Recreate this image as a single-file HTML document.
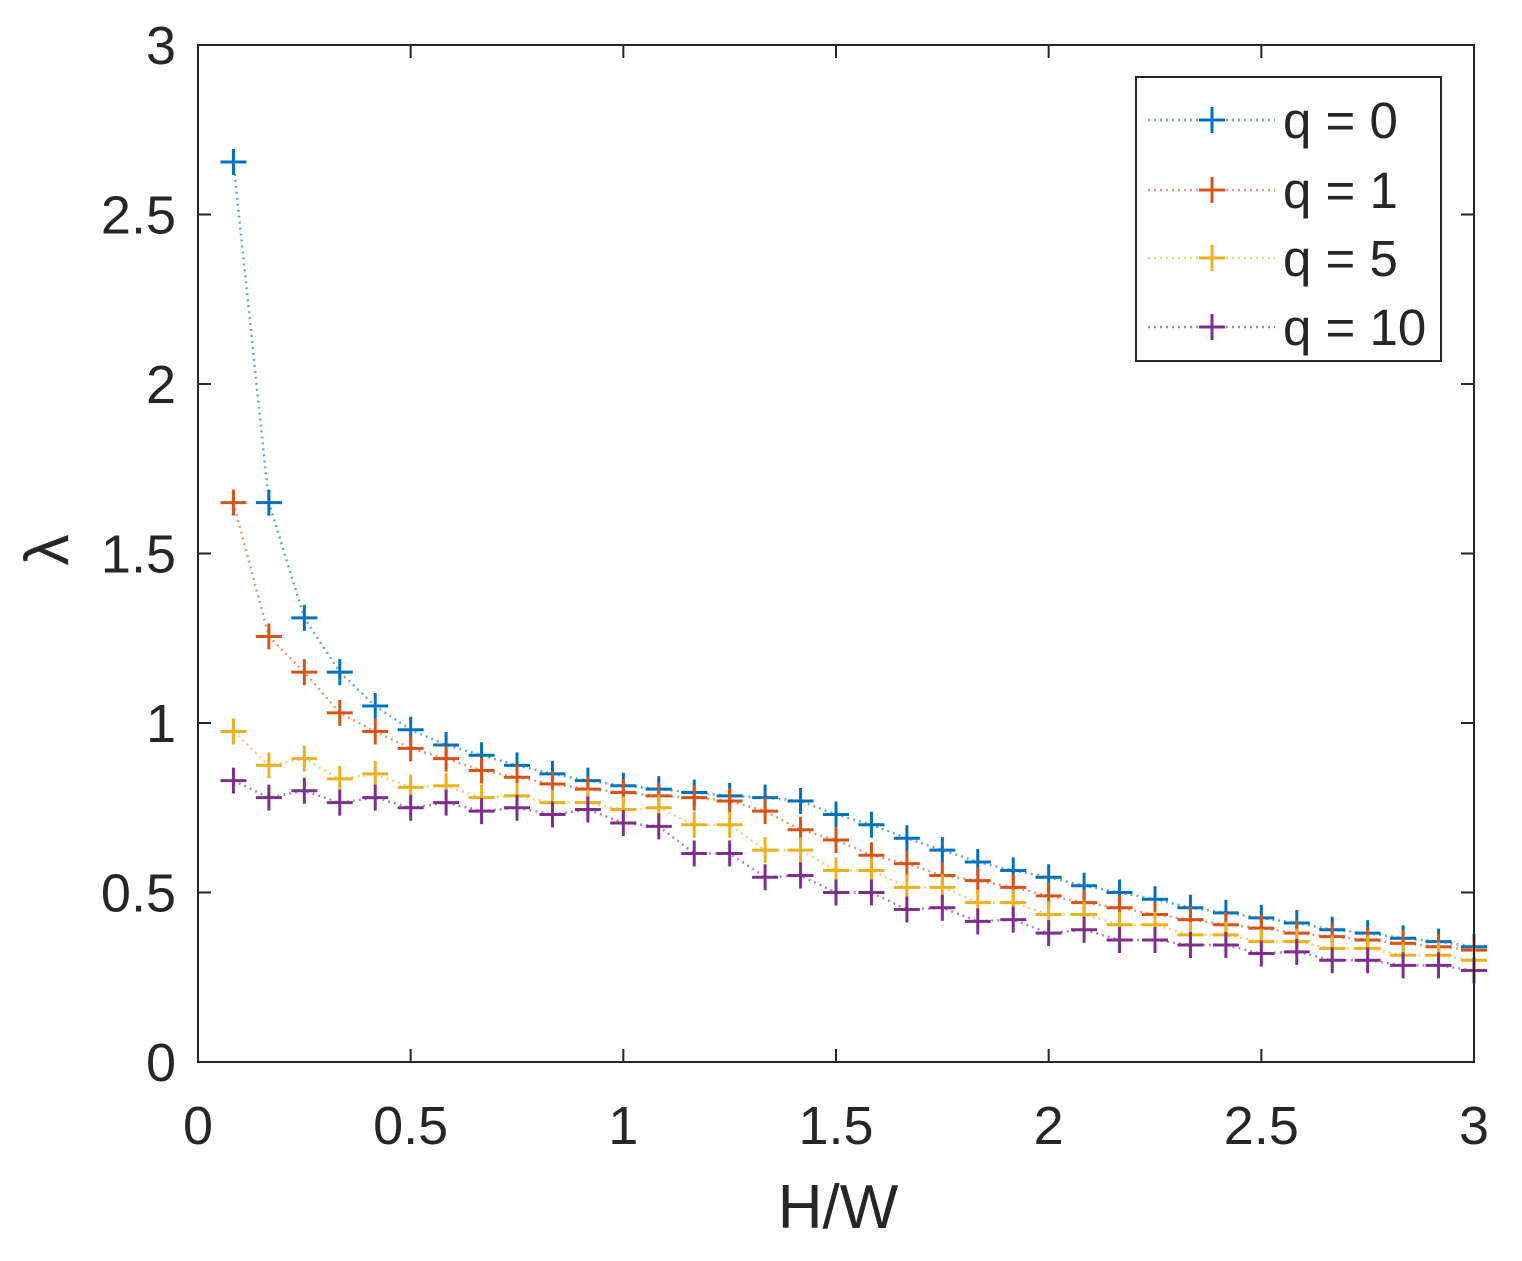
<!DOCTYPE html>
<html><head><meta charset="utf-8"><style>
html,body{margin:0;padding:0;background:#fff;}
svg text{font-family:"Liberation Sans",sans-serif;fill:#262626;}
</style></head><body>
<svg id="chart" width="1522" height="1256" xmlns="http://www.w3.org/2000/svg">
<rect width="1522" height="1256" fill="#fff"/>
<g id="plot"></g>
</svg>
<script>
const xs = [];
for (let k = 1; k <= 36; k++) xs.push(k / 12);
const q0 = [2.655,1.65,1.31,1.15,1.05,0.98,0.935,0.905,0.875,0.85,0.83,0.815,0.805,0.795,0.785,0.78,0.77,0.73,0.70,0.66,0.625,0.59,0.565,0.545,0.52,0.50,0.48,0.455,0.44,0.425,0.41,0.39,0.38,0.365,0.355,0.34];
const q1 = [1.65,1.255,1.15,1.03,0.975,0.925,0.895,0.86,0.84,0.82,0.805,0.795,0.785,0.78,0.77,0.74,0.685,0.655,0.61,0.585,0.55,0.535,0.515,0.49,0.47,0.455,0.435,0.42,0.405,0.395,0.38,0.37,0.36,0.35,0.34,0.33];
const q5 = [0.975,0.875,0.895,0.835,0.85,0.81,0.815,0.78,0.785,0.765,0.765,0.745,0.75,0.70,0.70,0.625,0.625,0.565,0.565,0.515,0.515,0.47,0.47,0.435,0.435,0.405,0.405,0.375,0.375,0.355,0.355,0.335,0.335,0.315,0.315,0.30];
const q10 = [0.83,0.78,0.80,0.765,0.78,0.75,0.765,0.74,0.75,0.73,0.745,0.705,0.695,0.615,0.615,0.545,0.55,0.50,0.50,0.45,0.455,0.415,0.42,0.38,0.39,0.36,0.36,0.345,0.345,0.32,0.325,0.30,0.30,0.285,0.285,0.27];
const seriesNames = ["q = 0","q = 1","q = 5","q = 10"];
const xTicks = [0,0.5,1,1.5,2,2.5,3];
const yTicks = [0,0.5,1,1.5,2,2.5,3];
const xTickLabels = ["0","0.5","1","1.5","2","2.5","3"];
const yTickLabels = ["0","0.5","1","1.5","2","2.5","3"];

const L=198,R=1474,T=45,B=1062;
const X=v=>L+(v-0)/3*(R-L);
const Y=v=>B-(v-0)/3*(B-T);
const NS="http://www.w3.org/2000/svg";
const g=document.getElementById('plot');
function mk(tag,attrs,parent){const e=document.createElementNS(NS,tag);for(const k in attrs)e.setAttribute(k,attrs[k]);(parent||g).appendChild(e);return e;}

const colors=["#0072BD","#D95319","#EDB120","#7E2F8E"];
const all=[q0,q1,q5,q10];
all.forEach((s,i)=>{
  const grp=mk('g',{});
  
  
  const pts=s.map((v,j)=>X(xs[j])+','+Y(v)).join(' ');
  const pl=mk('polyline',{points:pts,fill:'none',stroke:colors[i],'stroke-width':2.5,'stroke-dasharray':'2,4','opacity':0.6},grp);
  
  
  s.forEach((v,j)=>{
    const cx=X(xs[j]),cy=Y(v);
    const p=mk('path',{d:`M${cx-13},${cy}H${cx+13}M${cx},${cy-13}V${cy+13}`,stroke:colors[i],'stroke-width':3},grp);
    
    
  });
});

const box=mk('rect',{x:L,y:T,width:R-L,height:B-T,fill:'none',stroke:'#262626','stroke-width':2});


xTicks.forEach((v,i)=>{
  const x=X(v);
  mk('path',{d:`M${x},${B}V${B-13}M${x},${T}V${T+13}`,stroke:'#262626','stroke-width':2});
  const t=mk('text',{x:x,y:1144,'text-anchor':'middle','font-size':54});
  t.textContent=xTickLabels[i];
  
  
});
yTicks.forEach((v,i)=>{
  const y=Y(v);
  mk('path',{d:`M${L},${y}H${L+13}M${R},${y}H${R-13}`,stroke:'#262626','stroke-width':2});
  const t=mk('text',{x:176,y:y+19,'text-anchor':'end','font-size':54});
  t.textContent=yTickLabels[i];
  
  
});
const xl=mk('text',{x:838,y:1228,'text-anchor':'middle','font-size':62});
xl.textContent='H/W';


const yl=mk('text',{x:0,y:0,'text-anchor':'middle','font-size':62,transform:'translate(68,550) rotate(-90)'});
yl.textContent='λ';



const lg=mk('g',{});


mk('rect',{x:1136,y:77,width:305,height:284,fill:'#fff',stroke:'#262626','stroke-width':2},lg);
const ly=[120,190,258,327];
seriesNames.forEach((n,i)=>{
  const e=mk('g',{},lg);
  
  
  mk('line',{x1:1148,y1:ly[i],x2:1275,y2:ly[i],stroke:colors[i],'stroke-width':2.5,'stroke-dasharray':'2,4',opacity:0.6},e);
  mk('path',{d:`M${1199},${ly[i]}H${1225}M${1212},${ly[i]-13}V${ly[i]+13}`,stroke:colors[i],'stroke-width':3},e);
  const t=mk('text',{x:1283,y:ly[i]+18,'font-size':51},e);
  t.textContent=n;
});
</script>
</body></html>
